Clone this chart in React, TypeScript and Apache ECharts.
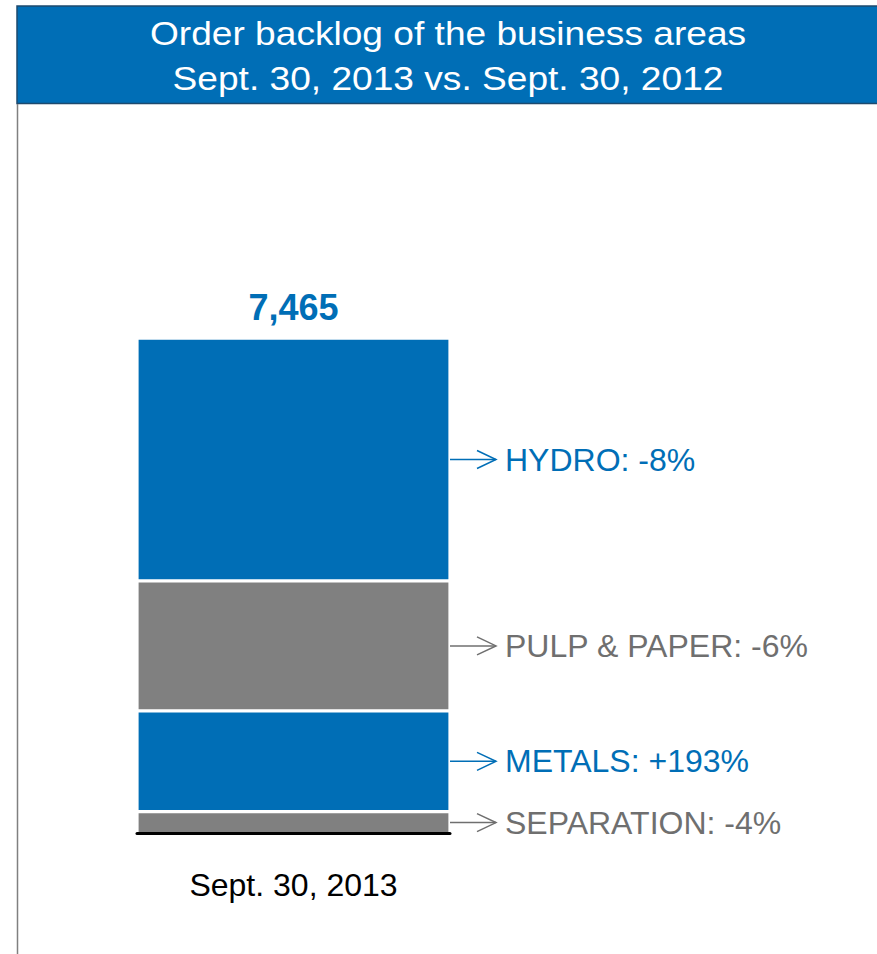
import React, { useEffect, useRef } from 'react';
import * as echarts from 'echarts';

const titleLines = ['Order backlog of the business areas', 'Sept. 30, 2013 vs. Sept. 30, 2012'];
const categories = ['Sept. 30, 2013'];
const segmentNames = ['SEPARATION', 'METALS', 'PULP & PAPER', 'HYDRO'];
const segmentValues = [329, 1518, 1960, 3658];
const segmentChanges = ['-4%', '+193%', '-6%', '-8%'];
const segmentColors = ['#808080', '#006EB6', '#808080', '#006EB6'];
const labelColors = ['#6F6F6F', '#006EB6', '#6F6F6F', '#006EB6'];

const FONT = '"Liberation Sans", Arial, sans-serif';

export default function App() {
  const ref = useRef<HTMLDivElement>(null);

  useEffect(() => {
    if (!ref.current) return;
    const chart = echarts.init(ref.current, undefined, { renderer: 'svg' });
    const total = segmentValues.reduce((a, b) => a + b, 0);
    const cum: number[] = [];
    let acc = 0;
    segmentValues.forEach((v) => {
      cum.push(acc);
      acc += v;
    });

    const barSeries = segmentNames.map((name, i) => ({
      type: 'bar',
      name,
      stack: 'total',
      data: [segmentValues[i]],
      barWidth: '100%',
      silent: true,
      itemStyle: { color: segmentColors[i], borderColor: '#ffffff', borderWidth: 1.6 },
      label:
        i === segmentNames.length - 1
          ? {
              show: true,
              position: 'top',
              distance: 13,
              formatter: () => total.toLocaleString('en-US'),
              fontSize: 36,
              fontWeight: 'bold',
              fontFamily: FONT,
              color: '#006EB6',
            }
          : { show: false },
    }));

    const arrowSeries = {
      type: 'custom',
      silent: true,
      clip: false,
      data: segmentValues.map((v, i) => [0, cum[i], cum[i] + v]),
      encode: { x: 0, y: 2 },
      renderItem: (params: any, api: any) => {
        const idx = params.dataIndex;
        const lo = api.coord([0, api.value(1)]);
        const hi = api.coord([0, api.value(2)]);
        const y = (lo[1] + hi[1]) / 2;
        const half = api.size([1, 0])[0] / 2;
        const x0 = lo[0] + half - 1;
        const tip = x0 + 47;
        const c = labelColors[idx];
        return {
          type: 'group',
          children: [
            { type: 'line', shape: { x1: x0, y1: y, x2: tip, y2: y }, style: { stroke: c, lineWidth: 1.5 } },
            {
              type: 'polyline',
              shape: { points: [[tip - 19, y - 9], [tip, y], [tip - 19, y + 9]] },
              style: { stroke: c, fill: null, lineWidth: 1.5 },
            },
            {
              type: 'text',
              style: {
                text: `${segmentNames[idx]}: ${segmentChanges[idx]}`,
                x: tip + 9,
                y,
                fill: c,
                font: `32px ${FONT}`,
                align: 'left',
                verticalAlign: 'middle',
                textAlign: 'left',
                textVerticalAlign: 'middle',
              },
            },
          ],
        };
      },
    };

    chart.setOption({
      animation: false,
      backgroundColor: '#ffffff',
      grid: { left: 137, width: 313, top: 170, bottom: 120.5, containLabel: false },
      xAxis: {
        type: 'category',
        data: categories,
        z: 10,
        axisLine: { show: true, lineStyle: { color: '#000000', width: 3 } },
        axisTick: { show: false },
        axisLabel: { fontSize: 32, color: '#000000', margin: 35, fontFamily: FONT },
        splitLine: { show: false },
      },
      yAxis: { type: 'value', min: 0, max: 10000, show: false, splitLine: { show: false } },
      graphic: [
        {
          type: 'rect',
          shape: { x: 17, y: 6, width: 880, height: 97.5 },
          style: { fill: '#006EB6', stroke: '#1d4a6e', lineWidth: 1.5 },
          silent: true,
        },
        {
          type: 'line',
          shape: { x1: 17.5, y1: 104, x2: 17.5, y2: 954 },
          style: { stroke: '#808080', lineWidth: 1.5 },
          silent: true,
        },
        ...titleLines.map((t, i) => ({
          type: 'text',
          x: 448,
          y: i === 0 ? 33.5 : 78.5,
          scaleX: 1.125,
          silent: true,
          style: {
            text: t,
            font: `33px ${FONT}`,
            fill: '#ffffff',
            align: 'center',
            verticalAlign: 'middle',
            textAlign: 'center',
            textVerticalAlign: 'middle',
          },
        })),
      ],
      series: [...barSeries, arrowSeries],
    });

    return () => chart.dispose();
  }, []);

  return (
    <div
      ref={ref}
      style={{ position: 'absolute', left: 0, top: 0, width: 877, height: 954 }}
    />
  );
}
